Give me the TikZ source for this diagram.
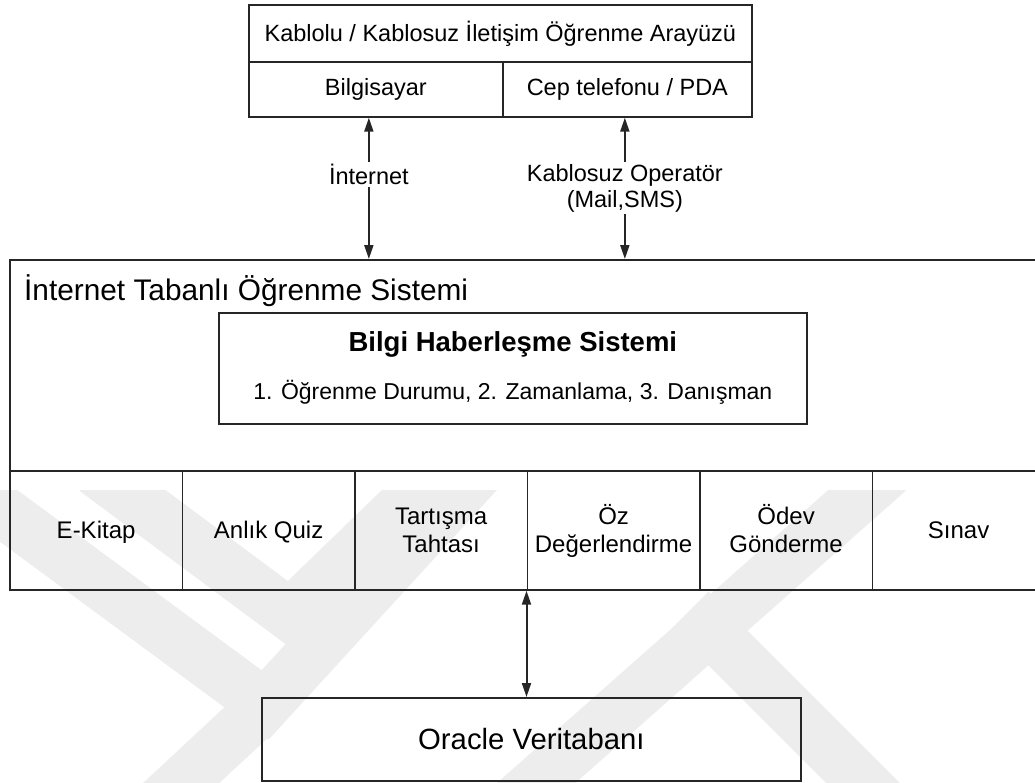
\documentclass[tikz,border=0pt]{standalone}
\usepackage{fontspec}
\setmainfont{Liberation Sans}
\usetikzlibrary{arrows.meta,calc}

% uniform line box for the module labels (room for accented capitals)
\newcommand\lblstrut{\rule[-6pt]{0pt}{28pt}}

\tikzset{
  box/.style={draw=black!85, line width=1.7pt, anchor=north west, inner sep=0pt,
              align=center, font=\fontsize{23.5}{27}\selectfont},
  cell/.style={box, minimum width=172.5pt, minimum height=119pt,
               font=\fontsize{24}{28}\selectfont},
  link/.style={line width=2pt, draw=black!85,
               {Triangle[length=14pt,width=9pt]}-{Triangle[length=14pt,width=9pt]}},
  tag/.style={fill=white, inner sep=2pt, align=center,
              font=\fontsize{23.5}{26}\selectfont},
  mark band/.style={draw=black!7, line width=52pt, line join=miter, line cap=butt}
}

\begin{document}
\begin{tikzpicture}[x=1pt,y=-1pt]
\useasboundingbox (0,0) rectangle (1035,782);

% faint background emblem in the lower part of the page
\begin{scope}
  \clip (0,490) rectangle (1035,782);
  \draw[mark band] (-40,480) -- (265,705) -- (480,470);
  \draw[mark band] (265,705) -- (120,840);
  \draw[mark band] (95,470) -- (290,615) -- (440,470);
  \draw[mark band] (500,815) -- (890,470);
  \draw[mark band] (690,610) -- (890,810);
\end{scope}

% user interface block
\node[box, minimum width=503pt, minimum height=57pt] (ui) at (248,4)
  {Kablolu / Kablosuz İletişim Öğrenme Arayüzü};
\node[box, minimum width=254pt, minimum height=55pt] (pc) at (248,61) {Bilgisayar};
\node[box, minimum width=249pt, minimum height=55pt] (mob) at (502,61) {Cep telefonu / PDA};

% learning system block
\node[box, minimum width=1036pt, minimum height=211pt] (lms) at (9,259) {};
\node[anchor=west, inner sep=0pt, font=\fontsize{29.8}{33}\selectfont] (lmstitle)
  at (24,291) {İnternet Tabanlı Öğrenme Sistemi};
\node[box, minimum width=588pt, minimum height=111pt] (bhs) at (218,312) {};
\node[inner sep=0pt, font=\bfseries\fontsize{27.5}{30}\selectfont] (bhstitle)
  at ($(bhs.north)+(0,32)$) {Bilgi Haberleşme Sistemi};
\node[inner sep=0pt, font=\fontsize{23}{26}\selectfont] (bhsitems)
  at ($(bhs.north)+(0,80)$) {1. Öğrenme Durumu, 2. Zamanlama, 3. Danışman};

% module row
\node[cell] (ek)  at (9,470)     {\lblstrut E-Kitap};
\node[cell] (aq)  at (181.5,470) {\lblstrut Anlık Quiz};
\node[cell] (tt)  at (354,470)   {\lblstrut Tartışma\\\lblstrut Tahtası};
\node[cell] (oz)  at (526.5,470) {\lblstrut Öz\\\lblstrut Değerlendirme};
\node[cell] (og)  at (699,470)   {\lblstrut Ödev\\\lblstrut Gönderme};
\node[cell] (sn)  at (871.5,470) {\lblstrut Sınav};

% database
\node[box, minimum width=539pt, minimum height=83pt,
      font=\fontsize{29.3}{32}\selectfont] (db) at (261,697) {Oracle Veritabanı};

% connections
\draw[link] ([xshift=-7pt]pc.south) -- ([xshift=-7pt]pc.south |- lms.north)
  node[tag, pos=0.40] {İnternet};
\draw[link] ([xshift=-2.5pt]mob.south) -- ([xshift=-2.5pt]mob.south |- lms.north)
  node[tag, pos=0.5] {Kablosuz Operatör\\(Mail,SMS)};
\draw[link] (oz.south west) -- (oz.south west |- db.north);
\end{tikzpicture}
\end{document}
